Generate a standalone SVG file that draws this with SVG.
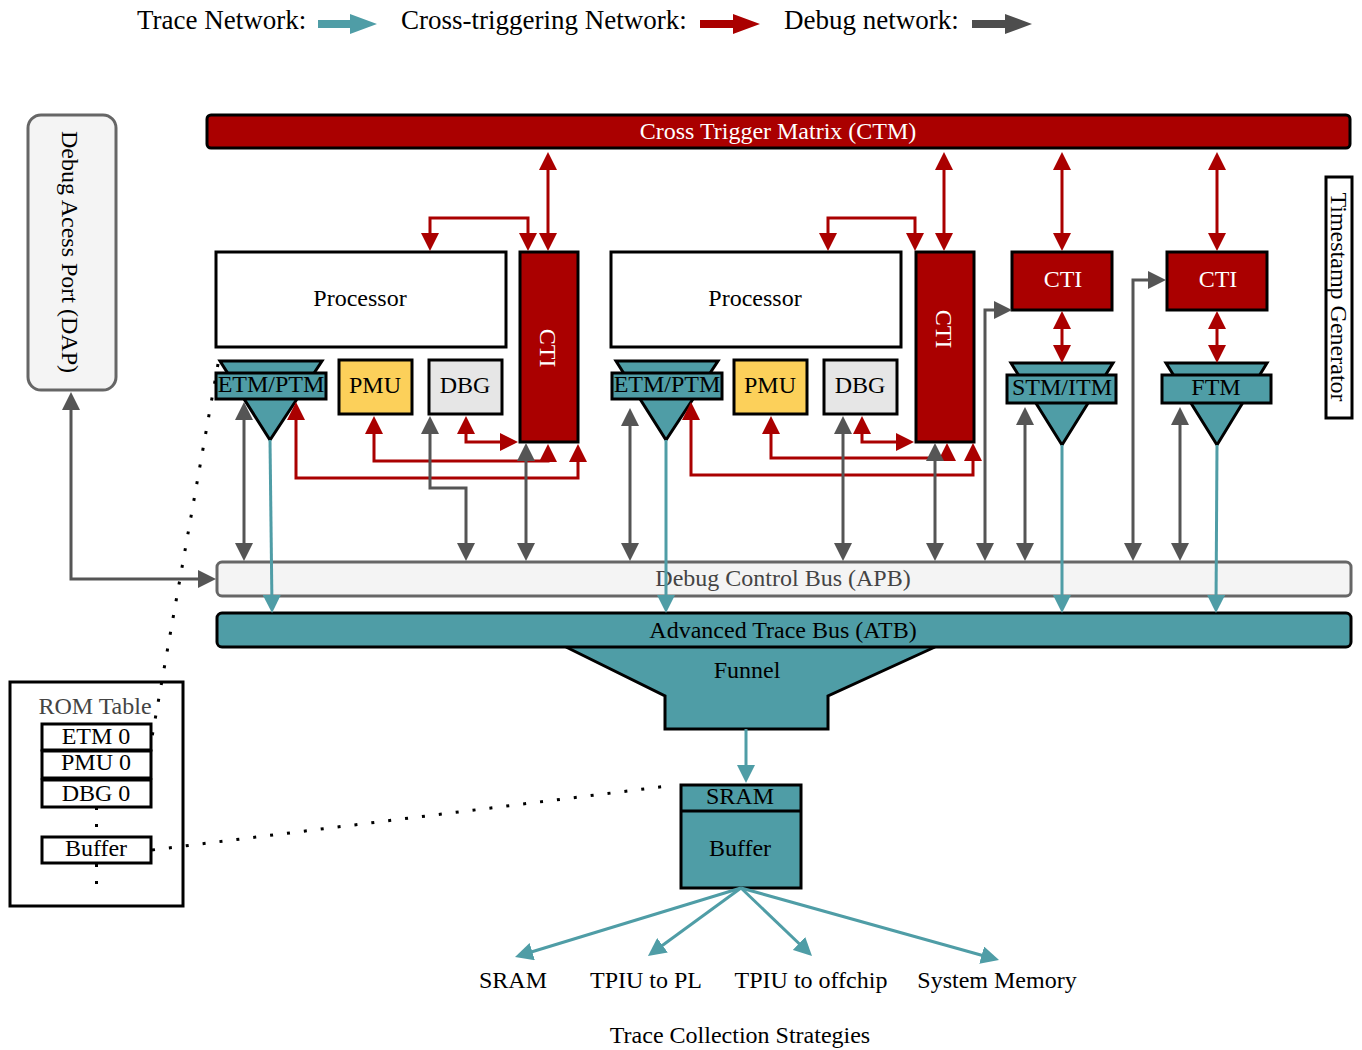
<svg xmlns="http://www.w3.org/2000/svg" width="1362" height="1050" viewBox="0 0 1362 1050">
<style>
text{font-family:'Liberation Serif','Times New Roman',serif;font-size:24px;fill:#000;text-anchor:middle}
.leg{font-size:27px;text-anchor:start}
.w{fill:#fff}
.dg{fill:#444}
.box{stroke:#000;stroke-width:3}
.red{fill:#AA0000}
.teal{fill:#4F9DA6}
.r{fill:none;stroke:#AA0000;stroke-width:3}
.g{fill:none;stroke:#555;stroke-width:3}
.t{fill:none;stroke:#4F9DA6;stroke-width:3}
.d{fill:none;stroke:#000;stroke-width:3;stroke-dasharray:3 14}
</style>
<defs>
<marker id="mr" viewBox="0 0 18 18" markerWidth="18" markerHeight="18" refX="13" refY="9" orient="auto-start-reverse" markerUnits="userSpaceOnUse"><path d="M0,0L18,9L0,18z" fill="#AA0000"/></marker>
<marker id="mg" viewBox="0 0 18 18" markerWidth="18" markerHeight="18" refX="13" refY="9" orient="auto-start-reverse" markerUnits="userSpaceOnUse"><path d="M0,0L18,9L0,18z" fill="#555"/></marker>
<marker id="mt" viewBox="0 0 18 18" markerWidth="18" markerHeight="18" refX="13" refY="9" orient="auto-start-reverse" markerUnits="userSpaceOnUse"><path d="M0,0L18,9L0,18z" fill="#4F9DA6"/></marker>
</defs>

<g id="legend">
<text class="leg" x="137" y="29">Trace Network:</text>
<path d="M318,20H350V14L377,24L350,34V28H318z" fill="#4F9DA6"/>
<text class="leg" x="401" y="29">Cross-triggering Network:</text>
<path d="M700,20H733V14L760,24L733,34V28H700z" fill="#AA0000"/>
<text class="leg" x="784" y="29">Debug network:</text>
<path d="M972,20H1005V14L1032,24L1005,34V28H972z" fill="#4d4d4d"/>
</g>

<g id="ctm">
<rect x="207" y="115" width="1143" height="33" rx="4" class="box red"/>
<text class="w" x="778" y="139">Cross Trigger Matrix (CTM)</text>
</g>

<g id="dap">
<rect x="28" y="115" width="88" height="275" rx="13" fill="#F4F4F4" stroke="#666" stroke-width="3"/>
<text transform="translate(70,252) rotate(90)" y="8">Debug Acess Port (DAP)</text>
</g>

<g id="timestamp">
<rect x="1326" y="177" width="26" height="241" fill="#fff" class="box"/>
<text transform="translate(1339,297) rotate(90)" y="8">Timestamp Generator</text>
</g>

<g id="processor1">
<rect x="216" y="252" width="290" height="95" fill="#fff" class="box"/>
<text x="360" y="306">Processor</text>
</g>
<g id="cti1">
<rect x="520" y="252" width="58" height="190" class="box red"/>
<text class="w" transform="translate(548,348) rotate(90)" y="8">CTI</text>
</g>
<g id="etm1">
<polygon points="220,361 322,361 270,440" class="box teal"/>
<rect x="216" y="373" width="110" height="26" class="box teal"/>
<text x="271" y="392">ETM/PTM</text>
</g>
<g id="pmu1">
<rect x="339" y="360" width="73" height="54" fill="#FCD05A" class="box"/>
<text x="375" y="393">PMU</text>
</g>
<g id="dbg1">
<rect x="429" y="360" width="73" height="54" fill="#E6E6E6" class="box"/>
<text x="465" y="393">DBG</text>
</g>

<g id="processor2">
<rect x="611" y="252" width="290" height="95" fill="#fff" class="box"/>
<text x="755" y="306">Processor</text>
</g>
<g id="cti2">
<rect x="916" y="252" width="58" height="190" class="box red"/>
<text class="w" transform="translate(944,329) rotate(90)" y="8">CTI</text>
</g>
<g id="etm2">
<polygon points="616,361 718,361 666,440" class="box teal"/>
<rect x="612" y="373" width="110" height="26" class="box teal"/>
<text x="667" y="392">ETM/PTM</text>
</g>
<g id="pmu2">
<rect x="734" y="360" width="73" height="54" fill="#FCD05A" class="box"/>
<text x="770" y="393">PMU</text>
</g>
<g id="dbg2">
<rect x="824" y="360" width="73" height="54" fill="#E6E6E6" class="box"/>
<text x="860" y="393">DBG</text>
</g>

<g id="cti3">
<rect x="1012" y="252" width="100" height="58" class="box red"/>
<text class="w" x="1063" y="287">CTI</text>
</g>
<g id="stm">
<polygon points="1011,363 1113,363 1062,445" class="box teal"/>
<rect x="1007" y="375" width="109" height="28" class="box teal"/>
<text x="1062" y="395">STM/ITM</text>
</g>
<g id="cti4">
<rect x="1167" y="252" width="100" height="58" class="box red"/>
<text class="w" x="1218" y="287">CTI</text>
</g>
<g id="ftm">
<polygon points="1166,363 1267,363 1217,445" class="box teal"/>
<rect x="1162" y="375" width="109" height="28" class="box teal"/>
<text x="1216" y="395">FTM</text>
</g>

<g id="apb">
<rect x="217" y="562" width="1134" height="34" rx="5" fill="#F4F4F4" stroke="#666" stroke-width="3"/>
<text class="dg" x="783" y="586">Debug Control Bus (APB)</text>
</g>

<g id="funnel">
<polygon points="566,647 935,647 828,696 828,729 665,729 665,696" class="teal"/>
<polyline points="566,647 665,696 665,729 828,729 828,696 935,647" fill="none" stroke="#000" stroke-width="3"/>
<text x="747" y="678">Funnel</text>
</g>

<g id="atb">
<rect x="217" y="613" width="1134" height="34" rx="5" class="box teal"/>
<text x="783" y="638">Advanced Trace Bus (ATB)</text>
</g>

<g id="sram">
<rect x="681" y="785" width="120" height="103" class="box teal"/>
<line x1="681" y1="811" x2="801" y2="811" stroke="#000" stroke-width="3"/>
<text x="740" y="804">SRAM</text>
<text x="740" y="856">Buffer</text>
</g>

<g id="romtable">
<rect x="10" y="682" width="173" height="224" fill="#fff" class="box"/>
<text class="dg" x="95" y="714">ROM Table</text>
<rect x="42" y="724" width="109" height="26" fill="#fff" class="box"/>
<text x="96" y="744">ETM 0</text>
<rect x="42" y="751" width="109" height="27" fill="#fff" class="box"/>
<text x="96" y="770">PMU 0</text>
<rect x="42" y="780" width="109" height="27" fill="#fff" class="box"/>
<text x="96" y="801">DBG 0</text>
<rect x="42" y="837" width="109" height="26" fill="#fff" class="box"/>
<text x="96" y="856">Buffer</text>
<rect x="95" y="807" width="3" height="3"/>
<rect x="95" y="824" width="3" height="3"/>
<rect x="95" y="864" width="3" height="3"/>
<rect x="95" y="881" width="3" height="3"/>
</g>

<g id="strategies">
<text x="513" y="988">SRAM</text>
<text x="646" y="988">TPIU to PL</text>
<text x="811" y="988">TPIU to offchip</text>
<text x="997" y="988">System Memory</text>
<text x="740" y="1043">Trace Collection Strategies</text>
</g>

<g id="connectors">
<g marker-start="url(#mr)" marker-end="url(#mr)">
<path class="r" d="M548,157V246"/>
<path class="r" d="M430,246V218H528V246"/>
<path class="r" d="M374,421V461H548V449"/>
<path class="r" d="M296,407V478H578V449"/>
<path class="r" d="M466,421V442H513"/>
<path class="r" d="M944,157V246"/>
<path class="r" d="M828,246V218H915V246"/>
<path class="r" d="M771,421V458H947V448"/>
<path class="r" d="M691,407V475H973V448"/>
<path class="r" d="M862,421V442H909"/>
<path class="r" d="M1062,157V246"/>
<path class="r" d="M1062,316V358"/>
<path class="r" d="M1217,157V246"/>
<path class="r" d="M1217,316V358"/>
</g>
<g marker-start="url(#mg)" marker-end="url(#mg)">
<path class="g" d="M71,397V579H211"/>
<path class="g" d="M244,407V556"/>
<path class="g" d="M430,421V488H466V556"/>
<path class="g" d="M526,448V556"/>
<path class="g" d="M630,413V556"/>
<path class="g" d="M843,421V556"/>
<path class="g" d="M935,448V556"/>
<path class="g" d="M985,556V310H1007"/>
<path class="g" d="M1025,412V556"/>
<path class="g" d="M1133,556V280H1161"/>
<path class="g" d="M1180,412V556"/>
</g>
<g marker-end="url(#mt)">
<path class="t" d="M270,440L272,608"/>
<path class="t" d="M666,440V608"/>
<path class="t" d="M1062,445V608"/>
<path class="t" d="M1217,445L1216,608"/>
<path class="t" d="M746,729V778"/>
<path class="t" d="M741,888L519.8,955.5"/>
<path class="t" d="M741,888L652,953"/>
<path class="t" d="M741,888L808.4,952.5"/>
<path class="t" d="M741,888L994.2,958.7"/>
</g>
<path class="d" d="M218,364L152,737"/>
<path class="d" d="M152,850L668,786"/>
</g>
</svg>
